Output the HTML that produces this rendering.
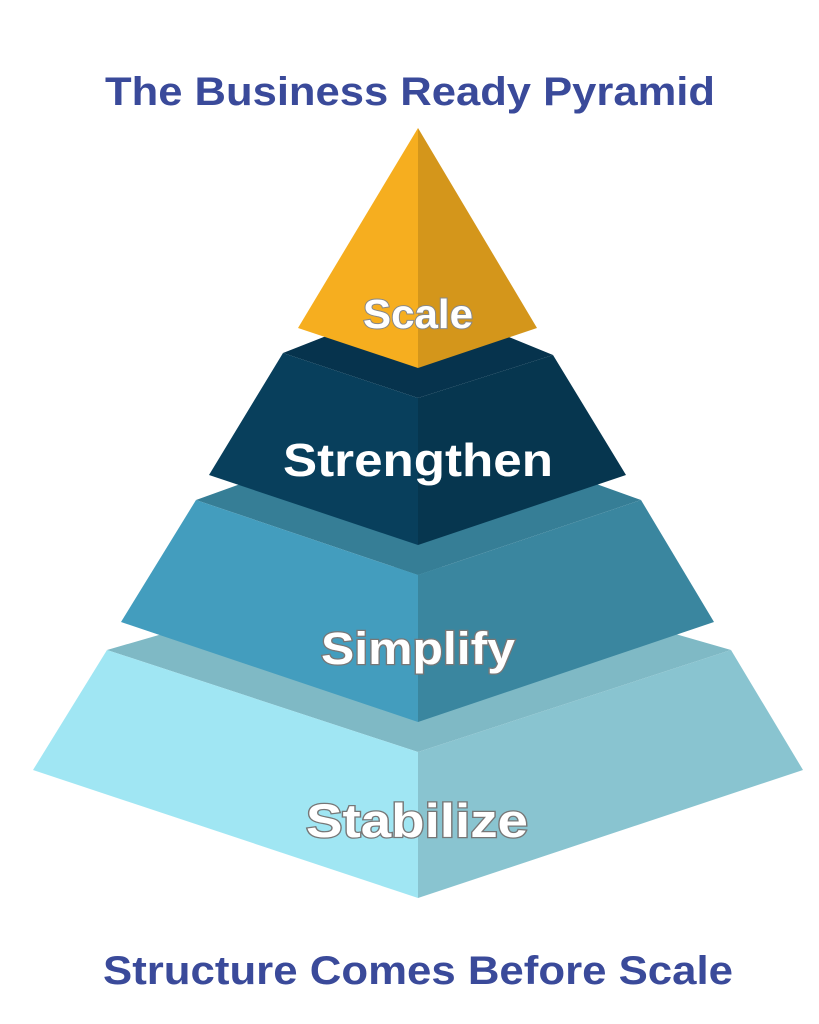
<!DOCTYPE html>
<html><head><meta charset="utf-8"><style>html,body{margin:0;padding:0;background:#fff}svg{display:block}</style></head>
<body>
<svg width="819" height="1024" viewBox="0 0 819 1024" xmlns="http://www.w3.org/2000/svg">
<g font-family="'Liberation Sans', sans-serif" font-weight="bold">
<text x="410" y="105" text-anchor="middle" font-size="40" fill="#3A4A9A" textLength="610" lengthAdjust="spacingAndGlyphs">The Business Ready Pyramid</text>
<text x="418" y="984" text-anchor="middle" font-size="40" fill="#3A4A9A" textLength="630" lengthAdjust="spacingAndGlyphs">Structure Comes Before Scale</text>
</g>
<!-- Stabilize -->
<polygon points="107,650 418,560 731,650 418,752" fill="#7FB9C5"/>
<polygon points="107,650 418,752 418,898 33,770" fill="#A0E6F3"/>
<polygon points="731,650 418,752 418,898 803,770" fill="#89C4D0"/>
<!-- Simplify -->
<polygon points="196,500 418,420 641,500 418,575" fill="#367E96"/>
<polygon points="196,500 418,575 418,722 121,622" fill="#439DBE"/>
<polygon points="641,500 418,575 418,722 714,622" fill="#3A869F"/>
<!-- Strengthen -->
<polygon points="283,353 418,300 553,355 418,398" fill="#06334D"/>
<polygon points="283,353 418,398 418,545 209,475" fill="#083F5C"/>
<polygon points="553,355 418,398 418,545 626,475" fill="#06364F"/>
<!-- Scale -->
<polygon points="418,128 418,368 298,328" fill="#F6AE1F"/>
<polygon points="418,128 418,368 537,328" fill="#D4961B"/>
<g font-family="'Liberation Sans', sans-serif" font-weight="bold" text-anchor="middle" fill="#fff">
<text x="418" y="328" font-size="41" stroke="#888" stroke-width="2" paint-order="stroke" textLength="110" lengthAdjust="spacingAndGlyphs">Scale</text>
<text x="418" y="476" font-size="46" textLength="270" lengthAdjust="spacingAndGlyphs">Strengthen</text>
<text x="418" y="664" font-size="45" stroke="#777" stroke-width="2.5" paint-order="stroke" textLength="194" lengthAdjust="spacingAndGlyphs">Simplify</text>
<text x="417" y="837" font-size="47" stroke="#777" stroke-width="2.5" paint-order="stroke" textLength="222" lengthAdjust="spacingAndGlyphs">Stabilize</text>
</g>
</svg>
</body></html>
